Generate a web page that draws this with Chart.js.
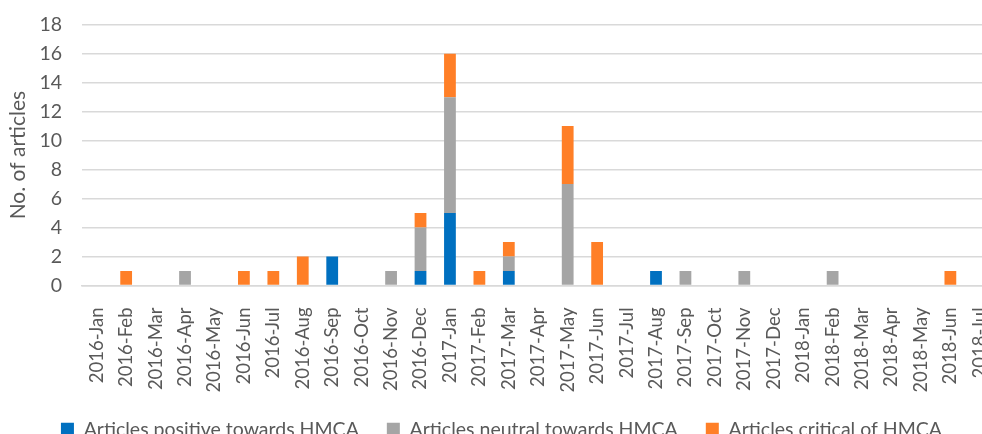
<!DOCTYPE html>
<html>
<head>
<meta charset="utf-8">
<script src="https://cdn.jsdelivr.net/npm/chart.js@4/dist/chart.umd.min.js"></script>
<style>
  html, body { margin: 0; padding: 0; background: #fff; overflow: hidden; }
  #wrap { width: 982px; height: 434px; overflow: hidden; position: relative; }
  #chart { position: absolute; left: 0; top: -7px; }
</style>
</head>
<body>
<div id="wrap"><canvas id="chart" width="1016" height="456"></canvas></div>
<script>
// ---- Data ---------------------------------------------------
const months = [
  "2016-Jan", "2016-Feb", "2016-Mar", "2016-Apr", "2016-May", "2016-Jun",
  "2016-Jul", "2016-Aug", "2016-Sep", "2016-Oct", "2016-Nov", "2016-Dec",
  "2017-Jan", "2017-Feb", "2017-Mar", "2017-Apr", "2017-May", "2017-Jun",
  "2017-Jul", "2017-Aug", "2017-Sep", "2017-Oct", "2017-Nov", "2017-Dec",
  "2018-Jan", "2018-Feb", "2018-Mar", "2018-Apr", "2018-May", "2018-Jun",
  "2018-Jul",
];
const positive = [0,0,0,0,0,0, 0,0,2,0,0,1, 5,0,1,0,0,0, 0,1,0,0,0,0, 0,0,0,0,0,0, 0];
const neutral  = [0,0,0,1,0,0, 0,0,0,0,1,3, 8,0,1,0,7,0, 0,0,1,0,1,0, 0,1,0,0,0,0, 0];
const critical = [0,1,0,0,0,1, 1,2,0,0,0,1, 3,1,1,0,4,3, 0,0,0,0,0,0, 0,0,0,0,0,1, 0];
const yTicks   = [0, 2, 4, 6, 8, 10, 12, 14, 16, 18];

const FONT = "Lato, 'Open Sans', sans-serif";
const TEXT = "#595959";

const ctx = document.getElementById("chart").getContext("2d");
new Chart(ctx, {
  type: "bar",
  data: {
    labels: months,
    datasets: [
      { label: "Articles positive towards HMCA", data: positive, backgroundColor: "#0070C0" },
      { label: "Articles neutral towards HMCA",  data: neutral,  backgroundColor: "#A5A5A5" },
      { label: "Articles critical of HMCA",      data: critical, backgroundColor: "#FF7F27" },
    ],
  },
  options: {
    responsive: false,
    animation: false,
    devicePixelRatio: 1,
    // negative left padding keeps the legend centred where the original one was
    layout: { padding: { top: 0, right: 0, bottom: 0, left: -13 } },
    datasets: { bar: { categoryPercentage: 1, barPercentage: 0.4 } },
    plugins: {
      legend: {
        position: "bottom",
        labels: {
          color: TEXT,
          font: { family: FONT, size: 19.5 },
          boxWidth: 13, boxHeight: 13,
          padding: 28,
        },
      },
      tooltip: { enabled: false },
    },
    scales: {
      x: {
        stacked: true,
        grid: { display: false },
        border: { display: true, color: "#D9D9D9", width: 1.5 },
        afterFit: (axis) => { axis.height = 106; },
        ticks: {
          color: TEXT,
          font: { family: FONT, size: 18.5 },
          maxRotation: 90, minRotation: 90,
          autoSkip: false,
          padding: 14,
        },
      },
      y: {
        stacked: true,
        min: 0, max: 18,
        afterBuildTicks: (axis) => { axis.ticks = yTicks.map((v) => ({ value: v })); },
        afterFit: (axis) => { axis.width = 95; },
        grid: { color: "#D9D9D9", lineWidth: 1.5, drawTicks: false },
        border: { display: false },
        ticks: { color: TEXT, font: { family: FONT, size: 19.5 }, padding: 20 },
        title: {
          display: true,
          text: "No. of articles",
          color: TEXT,
          font: { family: FONT, size: 21 },
          padding: { top: 19, bottom: 0 },
        },
      },
    },
  },
});
</script>
</body>
</html>
